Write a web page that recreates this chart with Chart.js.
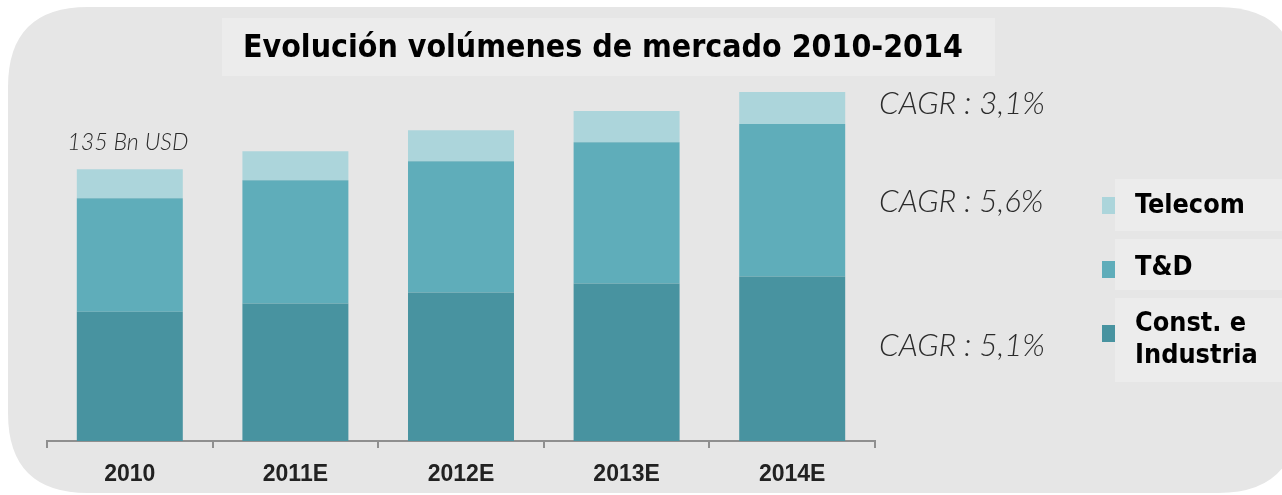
<!DOCTYPE html>
<html>
<head>
<meta charset="utf-8">
<script src="https://cdn.jsdelivr.net/npm/chart.js@4.4.1/dist/chart.umd.min.js"></script>
<style>
  html, body { margin: 0; padding: 0; background: #ffffff; }
  #wrap { position: relative; width: 1282px; height: 495px; }
</style>
</head>
<body>
<div id="wrap"><canvas id="chart" width="1282" height="495"></canvas></div>
<script>
// datos (Bn USD)
const years = ['2010', '2011E', '2012E', '2013E', '2014E'];
const constIndustria = [64.5, 68.5, 74, 78.5, 82];
const tyd = [56.5, 61.5, 65.5, 70.5, 76];
const telecom = [14.5, 14.5, 15.5, 15.5, 16];
const cagrLabels = ['CAGR : 3,1%', 'CAGR : 5,6%', 'CAGR : 5,1%'];
const totalLabel = '135 Bn USD';
const titleText = 'Evolución volúmenes de mercado 2010-2014';

const colores = ['#4893a0', '#5fadba', '#acd5db'];

// ajusta la fuente a un ancho dado
function fitFont(ctx, text, weight, family, width) {
    ctx.font = weight + ' 100px ' + family;
    const w = ctx.measureText(text).width;
    return weight + ' ' + (100 * width / w).toFixed(1) + 'px ' + family;
}

function roundRect(ctx, x, y, w, h, r) {
    ctx.beginPath();
    ctx.moveTo(x + r, y);
    ctx.lineTo(x + w - r, y);
    ctx.quadraticCurveTo(x + w, y, x + w, y + r);
    ctx.lineTo(x + w, y + h - r);
    ctx.quadraticCurveTo(x + w, y + h, x + w - r, y + h);
    ctx.lineTo(x + r, y + h);
    ctx.quadraticCurveTo(x, y + h, x, y + h - r);
    ctx.lineTo(x, y + r);
    ctx.quadraticCurveTo(x, y, x + r, y);
    ctx.closePath();
}

const decor = {
    id: 'decor',
    beforeDraw(chart) {
        const ctx = chart.ctx;
        ctx.save();
        ctx.fillStyle = '#ffffff';
        ctx.fillRect(0, 0, chart.width, chart.height);
        ctx.fillStyle = '#e6e6e6';
        roundRect(ctx, 8, 7, 1290, 486, 80);
        ctx.fill();
        // caja del titulo
        ctx.fillStyle = '#ececec';
        ctx.fillRect(222, 18, 773, 58);
        // cajas de la leyenda
        ctx.fillRect(1115, 179, 170, 52);
        ctx.fillRect(1115, 239, 170, 51);
        ctx.fillRect(1115, 298, 170, 84);
        ctx.restore();
    },
    afterDraw(chart) {
        const ctx = chart.ctx;
        ctx.save();
        ctx.textBaseline = 'middle';
        ctx.textAlign = 'left';

        // titulo
        ctx.fillStyle = '#000000';
        ctx.font = fitFont(ctx, titleText, 'bold', "'DejaVu Sans Condensed', 'DejaVu Sans'", 721);
        ctx.fillText(titleText, 243, 49);

        // total sobre la primera barra
        const topMeta = chart.getDatasetMeta(2).data[0];
        ctx.fillStyle = '#2b2b2b';
        ctx.font = fitFont(ctx, totalLabel, 'italic 300', "Lato", 121);
        ctx.textAlign = 'center';
        ctx.fillText(totalLabel, topMeta.x - 2, topMeta.y - 27);

        // CAGR
        ctx.textAlign = 'left';
        const cagrY = [104, 202, 346];
        ctx.font = fitFont(ctx, cagrLabels[0], 'italic 300', "Lato", 166);
        ctx.fillStyle = '#2b2b2b';
        cagrLabels.forEach((t, i) => ctx.fillText(t, 879, cagrY[i]));

        // leyenda (orden inverso)
        const items = chart.data.datasets.map(d => ({ label: d.label, color: d.backgroundColor })).reverse();
        const boxY = [197, 261, 325];
        const textY = [[206], [268], [324, 356]];
        ctx.font = fitFont(ctx, 'Telecom', 'bold', "'DejaVu Sans Condensed', 'DejaVu Sans'", 110);
        items.forEach((it, i) => {
            ctx.fillStyle = it.color;
            ctx.fillRect(1102, boxY[i], 13, 17);
            ctx.fillStyle = '#000000';
            it.label.split('\n').forEach((ln, j) => ctx.fillText(ln, 1135, textY[i][j]));
        });
        ctx.restore();
    }
};

new Chart(document.getElementById('chart'), {
    type: 'bar',
    data: {
        labels: years,
        datasets: [
            { label: 'Const. e\nIndustria', data: constIndustria, backgroundColor: colores[0] },
            { label: 'T&D', data: tyd, backgroundColor: colores[1] },
            { label: 'Telecom', data: telecom, backgroundColor: colores[2] }
        ]
    },
    options: {
        responsive: false,
        animation: false,
        devicePixelRatio: 1,
        layout: { padding: { left: 47, right: 407, top: 80, bottom: 0 } },
        datasets: { bar: { barPercentage: 0.64, categoryPercentage: 1, borderWidth: 0 } },
        plugins: { legend: { display: false }, title: { display: false }, tooltip: { enabled: false } },
        scales: {
            x: {
                stacked: true,
                afterFit(scale) { scale.height = 54; },
                border: { display: true, color: '#8f8f8f', width: 2 },
                grid: { display: true, drawOnChartArea: false, drawTicks: true, tickLength: 7, color: '#8f8f8f', lineWidth: 2 },
                ticks: { color: '#222222', padding: 13, font: { family: "'Liberation Sans', Arial", weight: 'bold', size: 23 } }
            },
            y: {
                stacked: true,
                display: false,
                min: 0,
                max: 180
            }
        }
    },
    plugins: [decor]
});
</script>
</body>
</html>
